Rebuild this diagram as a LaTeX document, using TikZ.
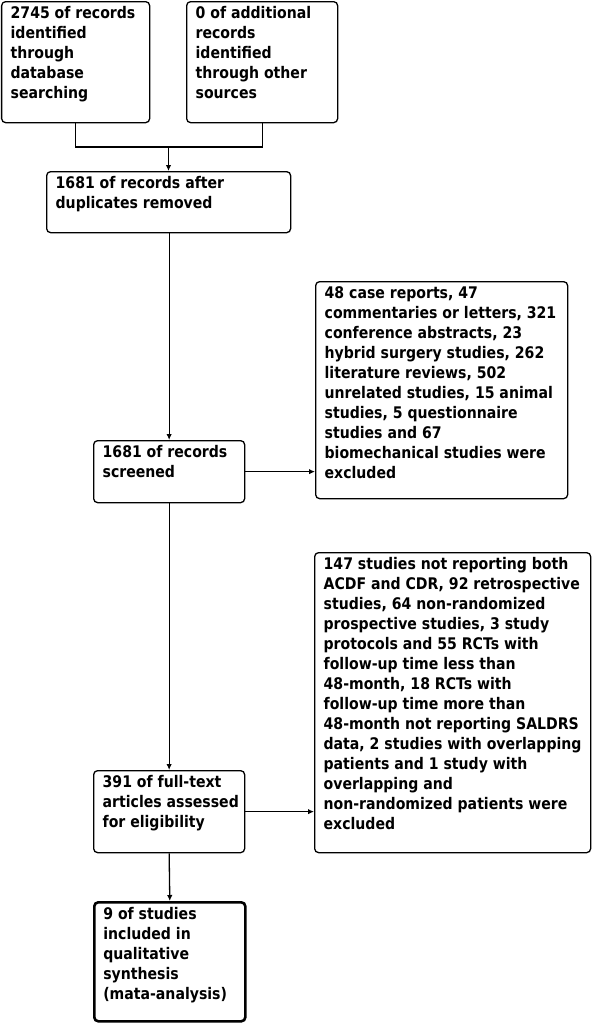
\documentclass[tikz,border=0pt]{standalone}
\usepackage{fontspec}
\setmainfont[FakeStretch=0.88]{DejaVu Sans}
\usetikzlibrary{arrows.meta}
\newcommand{\bxtext}[3]{\parbox[c][#2][t]{#1}{\raggedright #3}}
\begin{document}
\begin{tikzpicture}[x=1pt,y=-1pt,
  flowbox/.style={draw=black, line width=1.3pt, rounded corners=4pt, inner sep=0pt, anchor=north west,
     font=\fontsize{16}{20}\selectfont\bfseries, align=left},
  thickbox/.style={flowbox, line width=2.6pt},
  conn/.style={line width=1.3pt},
  arr/.style={conn, -{Latex[length=6pt,width=5.5pt]}}]
\useasboundingbox (0,0) rectangle (592,1023);
\fill[white] (0,0) rectangle (592,1023);

\node[flowbox, minimum width=148pt, minimum height=121pt] (b1) at (1,1)
  {\hspace*{6pt}\bxtext{136pt}{105pt}{\vspace*{-3pt}2745 of records\\identified\\through\\database\\searching}};
\node[flowbox, minimum width=151pt, minimum height=121pt] (b2) at (186,1)
  {\hspace*{6pt}\bxtext{139pt}{105pt}{\vspace*{-3pt}0 of additional\\records\\identified\\through other\\sources}};
\node[flowbox, minimum width=244pt, minimum height=61pt] (b3) at (46,171)
  {\hspace*{6pt}\bxtext{232pt}{45pt}{\vspace*{-3pt}1681 of records after\\duplicates removed}};
\node[flowbox, minimum width=151pt, minimum height=62pt] (b4) at (93,440)
  {\hspace*{6pt}\bxtext{139pt}{46pt}{\vspace*{-3pt}1681 of records\\screened}};
\node[flowbox, minimum width=252pt, minimum height=217pt] (b5) at (315,281)
  {\hspace*{6pt}\bxtext{240pt}{201pt}{\vspace*{-3pt}48 case reports, 47\\commentaries or letters, 321\\conference abstracts, 23\\hybrid surgery studies, 262\\literature reviews, 502\\unrelated studies, 15 animal\\studies, 5 questionnaire\\studies and 67\\biomechanical studies were\\excluded}};
\node[flowbox, minimum width=276pt, minimum height=300pt] (b6) at (314,552)
  {\hspace*{6pt}\bxtext{264pt}{284pt}{\vspace*{-3pt}147 studies not reporting both\\ACDF and CDR, 92 retrospective\\studies, 64 non-randomized\\prospective studies, 3 study\\protocols and 55 RCTs with\\follow-up time less than\\48-month, 18 RCTs with\\follow-up time more than\\48-month not reporting SALDRS\\data, 2 studies with overlapping\\patients and 1 study with\\overlapping and\\non-randomized patients were\\excluded}};
\node[flowbox, minimum width=151pt, minimum height=82pt] (b7) at (93,770)
  {\hspace*{6pt}\bxtext{139pt}{66pt}{\vspace*{-3pt}391 of full-text\\articles assessed\\for eligibility}};
\node[thickbox, minimum width=151pt, minimum height=119pt] (b8) at (93,901)
  {\hspace*{6pt}\bxtext{139pt}{103pt}{\vspace*{-3pt}9 of studies\\included in\\qualitative\\synthesis\\(mata-analysis)}};

\coordinate (mid) at (168.5,147);
\draw[conn] (b1.south) |- (mid) -| (b2.south);
\draw[arr] (mid) -- (mid |- b3.north);
\draw[arr] (b3.south -| b4.north) -- (b4.north);
\draw[arr] (b4.east) -- (b4.east -| b5.west);
\draw[arr] (b4.south) -- (b7.north);
\draw[arr] (b7.east) -- (b7.east -| b6.west);
\draw[arr] (b7.south) -- (b8.north);
\end{tikzpicture}
\end{document}
